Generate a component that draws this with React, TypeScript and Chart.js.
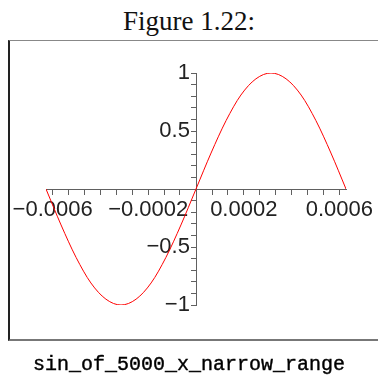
import React, { useEffect, useRef } from "react";
import { Chart, registerables } from "chart.js";

Chart.register(...registerables);

const xValues = [
  -0.000628, -0.000565, -0.000502, -0.00044, -0.000377, -0.000314, -0.000251,
  -0.000188, -0.000126, -0.000063, 0, 0.000063, 0.000126, 0.000188, 0.000251,
  0.000314, 0.000377, 0.00044, 0.000502, 0.000565, 0.000628,
];
const yValues = [
  0, -0.31, -0.59, -0.81, -0.95, -1, -0.95, -0.81, -0.59, -0.31, 0, 0.31, 0.59,
  0.81, 0.95, 1, 0.95, 0.81, 0.59, 0.31, 0,
];
const xTickLabels = [-0.0006, -0.0002, 0.0002, 0.0006];
const xTickValues = [
  -0.0006, -0.000533, -0.000467, -0.0004, -0.000333, -0.000267, -0.0002,
  -0.000133, -0.000067, 0, 0.000067, 0.000133, 0.0002, 0.000267, 0.000333,
  0.0004, 0.000467, 0.000533, 0.0006,
];
const yTickLabels = [-1, -0.5, 0.5, 1];
const yTickValues = [
  -1, -0.9, -0.8, -0.7, -0.6, -0.5, -0.4, -0.3, -0.2, -0.1, 0, 0.1, 0.2, 0.3,
  0.4, 0.5, 0.6, 0.7, 0.8, 0.9, 1,
];
const xRange = [-0.000628, 0.000628];
const yRange = [-1, 1];

const fmt = (v: number) => (v < 0 ? "\u2212" + String(-v) : String(v));
const near = (a: number, b: number, eps: number) => Math.abs(a - b) < eps;

export default function App() {
  const ref = useRef<HTMLCanvasElement | null>(null);
  useEffect(() => {
    if (!ref.current) return;
    const axisColor = "#606060";
    const chart = new Chart(ref.current, {
      type: "scatter",
      data: {
        datasets: [
          {
            data: xValues.map((x, i) => ({ x, y: yValues[i] })),
            showLine: true,
            borderColor: "#ff0000",
            borderWidth: 1,
            pointRadius: 0,
            cubicInterpolationMode: "monotone",
          },
        ],
      },
      options: {
        responsive: false,
        animation: false,
        layout: { padding: { left: 46, right: 32, top: 73, bottom: 72 } },
        plugins: { legend: { display: false }, tooltip: { enabled: false } },
        scales: {
          x: {
            type: "linear",
            min: xRange[0],
            max: xRange[1],
            position: { y: 0 },
            afterBuildTicks: (s: any) => {
              s.ticks = xTickValues.map((value) => ({ value }));
            },
            grid: {
              drawOnChartArea: false,
              tickLength: 5,
              tickColor: axisColor,
              tickWidth: 1,
            },
            border: { color: axisColor, width: 1 },
            ticks: {
              autoSkip: false,
              maxRotation: 0,
              padding: 3,
              color: "#222",
              font: { family: "Liberation Sans", size: 22 },
              callback: (v: any) => {
                const n = Number(v);
                const hit = xTickLabels.find((t) => near(t, n, 1e-6));
                return hit !== undefined ? fmt(hit) : "";
              },
            },
          },
          y: {
            type: "linear",
            min: yRange[0],
            max: yRange[1],
            position: { x: 0 },
            afterBuildTicks: (s: any) => {
              s.ticks = yTickValues.map((value) => ({ value }));
            },
            grid: {
              drawOnChartArea: false,
              tickLength: 5,
              tickColor: axisColor,
              tickWidth: 1,
            },
            border: { color: axisColor, width: 1 },
            ticks: {
              autoSkip: false,
              padding: 6,
              color: "#222",
              font: { family: "Liberation Sans", size: 22 },
              callback: (v: any) => {
                const n = Number(v);
                const hit = yTickLabels.find((t) => near(t, n, 1e-6));
                return hit !== undefined ? fmt(hit) + " " : "";
              },
            },
          },
        },
      },
    } as any);
    return () => chart.destroy();
  }, []);

  return (
    <div style={{ position: "fixed", left: 0, top: 0, width: 378, height: 377, background: "#fff", overflow: "hidden" }}>
      <div
        style={{
          position: "absolute",
          left: 0,
          top: 6,
          width: 378,
          textAlign: "center",
          fontFamily: "'Liberation Serif', serif",
          fontSize: 27,
          lineHeight: "30px",
          color: "#111",
        }}
      >
        Figure 1.22:
      </div>
      <div
        style={{
          position: "absolute",
          left: 8,
          top: 40,
          width: 380,
          height: 298,
          borderLeft: "2px solid #222",
          borderTop: "1px solid #888",
          borderBottom: "2px solid #777",
        }}
      />
      <canvas ref={ref} width={378} height={377} style={{ position: "absolute", left: 0, top: 0 }} />
      <div
        style={{
          position: "absolute",
          left: 0,
          top: 353,
          width: 378,
          textAlign: "center",
          fontFamily: "'Liberation Mono', monospace",
          fontSize: 20,
          lineHeight: "24px",
          color: "#000",
          WebkitTextStroke: "0.4px #000",
        }}
      >
        sin_of_5000_x_narrow_range
      </div>
    </div>
  );
}
